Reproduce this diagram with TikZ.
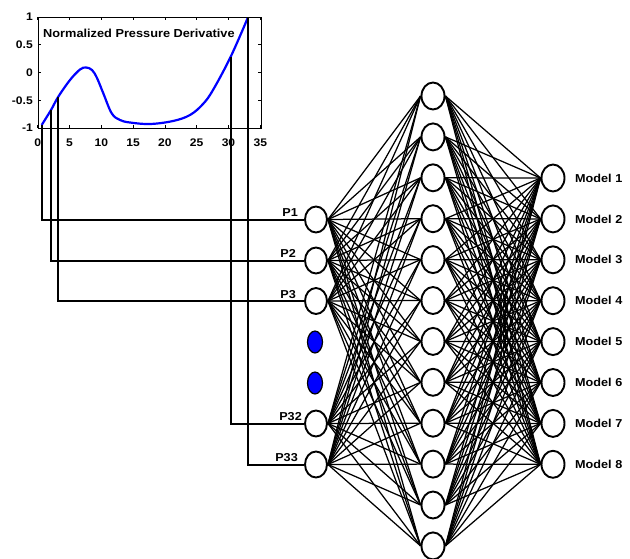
\documentclass[tikz,border=0pt]{standalone}
\usepackage{fontspec}
\setmainfont{Liberation Sans}[FakeStretch=1.1]
\usetikzlibrary{shapes.geometric}
\begin{document}
\begin{tikzpicture}[x=1pt,y=-1pt,
  inneur/.style={ellipse,draw,line width=1.9pt,fill=white,minimum width=22pt,minimum height=26pt,inner sep=0pt},
  hidneur/.style={ellipse,draw,line width=1.9pt,fill=white,minimum width=23pt,minimum height=27pt,inner sep=0pt},
  bluedot/.style={ellipse,draw,line width=1.2pt,fill=blue,minimum width=15pt,minimum height=22pt,inner sep=0pt},
  wire/.style={line width=1.25pt},
  feed/.style={line width=2pt},
  lbl/.style={font=\fontsize{11.5}{13}\selectfont\bfseries,inner sep=0pt},
  tick/.style={font=\fontsize{11}{12}\selectfont\bfseries,inner sep=0pt}]
\useasboundingbox (0,0) rectangle (630,558);
% ---- plot ----
\draw[line width=1pt] (38,17) rectangle (261,128);
\foreach \v/\t in {0/0,5/5,10/10,15/15,20/20,25/25,30/30,35/35}{
  \pgfmathsetmacro\xx{37.7+6.36*\v}
  \draw[line width=0.8pt] (\xx,128) -- (\xx,125);
  \draw[line width=0.8pt] (\xx,17) -- (\xx,20);
  \node[tick] (xt\v) at (\xx,143) {\t};
}
\foreach \yy/\t [count=\k] in {17/1,44.75/0.5,72.5/0,100.25/-0.5,128/-1}{
  \draw[line width=0.8pt] (38,\yy) -- (41,\yy);
  \draw[line width=0.8pt] (261,\yy) -- (258,\yy);
  \node[tick,anchor=east] (yt\k) at (33,\yy) {\t};
}
\node[font=\fontsize{11.6}{13}\selectfont\bfseries,anchor=west,inner sep=0pt] (title) at (43,33) {Normalized Pressure Derivative};
\draw[blue,line width=2.2pt,line join=round] plot[smooth,tension=0.6] coordinates {
 (41.7,125) (51,110) (58.3,96.7) (70,80) (80,69.5) (86,67.5) (92,70) (97,78) (103.3,93.3) (111.7,113.3)
 (120,120) (130,122.5) (150,124) (173,121) (190,115) (203,104) (213,90) (230.7,56.7) (247.7,18)};
% ---- input layer ----
\node[inneur] (in1) at (316,219.5) {};
\node[inneur] (in2) at (316,260.5) {};
\node[inneur] (in3) at (316,301) {};
\node[bluedot] (bd1) at (315,342) {};
\node[bluedot] (bd2) at (315,383) {};
\node[inneur] (in4) at (316,423.5) {};
\node[inneur] (in5) at (316,464.5) {};
% ---- hidden layer ----
\foreach \k in {1,...,12}{
  \node[hidneur] (h\k) at (433,{96+40.9*(\k-1)}) {};
}
% ---- output layer ----
\foreach \k in {1,...,8}{
  \node[hidneur] (o\k) at (553,{178+40.9*(\k-1)}) {};
  \node[lbl,anchor=west] (ol\k) at (575,{178+40.9*(\k-1)}) {Model \k};
}
% ---- connections ----
\foreach \i in {1,...,5}{
  \foreach \j in {1,...,12}{
    \draw[wire] (in\i.east) -- (h\j.west);
  }
}
\foreach \i in {1,...,12}{
  \foreach \j in {1,...,8}{
    \draw[wire] (h\i.east) -- (o\j.west);
  }
}
% ---- input labels ----
\node[lbl,anchor=base east] (pl1) at (298,216.5) {P1};
\node[lbl,anchor=base east] (pl2) at (296,257.5) {P2};
\node[lbl,anchor=base east] (pl3) at (296,298) {P3};
\node[lbl,anchor=base east] (pl4) at (302,420.5) {P32};
\node[lbl,anchor=base east] (pl5) at (298,461.5) {P33};
% ---- sample feeds ----
\coordinate (s1) at (41.5,125);
\coordinate (s2) at (51,110);
\coordinate (s3) at (58.3,97);
\coordinate (s4) at (231,57);
\coordinate (s5) at (248,17);
\foreach \i in {1,...,5}{
  \draw[feed] (s\i) |- (in\i.west);
}
\end{tikzpicture}
\end{document}
